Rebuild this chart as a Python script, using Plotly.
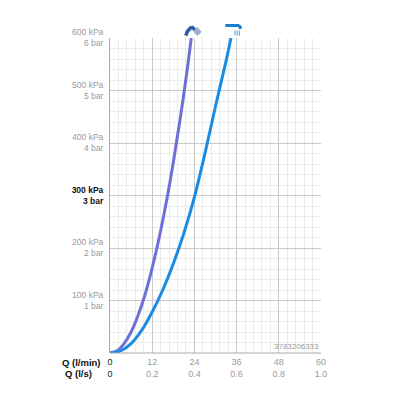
import plotly.graph_objects as go

# Flow curves (Q in l/min, p in kPa)
hand_q = [0, 2, 4, 6, 8, 10, 12, 14, 16, 18, 20, 22, 23.1]
hand_p = [0, 4, 18, 40, 72, 112, 162, 220, 287, 363, 448, 542, 600]
spout_q = [0, 3, 6, 9, 12, 15, 18, 21, 24, 27, 30, 33, 34.4]
spout_p = [0, 4, 18, 43, 78, 120, 170, 228, 297, 380, 470, 556, 600]

x_ticks = [0, 12, 24, 36, 48, 60]
x_ls = ["0", "0.2", "0.4", "0.6", "0.8", "1.0"]
y_ticks = [100, 200, 300, 400, 500, 600]
y_bar = ["1", "2", "3", "4", "5", "6"]
code = "3783206333"

GRAY = "#9a9a9a"
x_text = []
for v, s in zip(x_ticks, x_ls):
    c = "#222" if v == 0 else GRAY
    x_text.append(f"<span style='color:{c}'>{v}</span><br><span style='color:{c}'>{s}</span>")
y_text = []
for v, b in zip(y_ticks, y_bar):
    if v == 300:
        y_text.append(f"<span style='color:#111'><b>{v} kPa</b><br><b>{b} bar</b></span>")
    else:
        y_text.append(f"{v} kPa<br>{b} bar")

fig = go.Figure()
fig.add_trace(go.Scatter(x=hand_q, y=hand_p, mode="lines", line=dict(color="#6f6fd8", width=3, shape="spline")))
fig.add_trace(go.Scatter(x=spout_q, y=spout_p, mode="lines", line=dict(color="#1b8be2", width=3, shape="spline")))

# plot area in screenshot pixels (page has an 8px body margin)
L, R, T, B = 110, 321.5, 38, 353.5
OFF = 8


def px(x, y):
    return (x - L) / (R - L), (B - y) / (B - T)


def path(pts, close=False):
    s = ""
    for i, (x, y) in enumerate(pts):
        a, b = px(x, y)
        s += ("M" if i == 0 else "L") + f"{a:.4f},{b:.4f} "
    return s + ("Z" if close else "")


shapes = []
# hand shower icon: grid head + bent handle
shapes.append(dict(type="path", xref="paper", yref="paper",
                   path=path([(193.5, 31), (197.5, 27.5), (201.5, 32), (197.5, 35.5)], close=True),
                   fillcolor="#b7c6dc", line=dict(color="#8ea4c6", width=0.8)))
for t in [0.33, 0.66]:
    a = (193.5 + 4 * t, 31 - 3.5 * t)
    b = (197.5 + 4 * t, 35.5 - 3.5 * t)
    shapes.append(dict(type="path", xref="paper", yref="paper", path=path([a, b]), line=dict(color="#7f97bd", width=0.7)))
    a = (193.5 + 4 * t, 31 + 4.5 * t)
    b = (197.5 + 4 * t, 27.5 + 4.5 * t)
    shapes.append(dict(type="path", xref="paper", yref="paper", path=path([a, b]), line=dict(color="#7f97bd", width=0.7)))
shapes.append(dict(type="path", xref="paper", yref="paper",
                   path=path([(186, 35.5), (187.5, 31.5), (190.5, 28), (192.5, 27.5), (195, 29.5)]),
                   line=dict(color="#2d5fa8", width=3.5)))
# spout icon
shapes.append(dict(type="path", xref="paper", yref="paper",
                   path=path([(225.5, 25.5), (238.5, 25.5), (240.5, 26.8), (240.5, 29)]),
                   line=dict(color="#1b7fd0", width=3)))
for xx in [235.3, 237.5, 239.7]:
    shapes.append(dict(type="path", xref="paper", yref="paper", path=path([(xx, 30.5), (xx, 35.5)]),
                       line=dict(color="#5a9de0", width=1)))
shapes.append(dict(type="line", xref="paper", yref="paper", x0=0, x1=1, y0=0, y1=0,
                   line=dict(color="#aaaaaa", width=1)))

fig.update_layout(
    width=400, height=400,
    margin=dict(l=L - OFF, r=400 - R + OFF, t=T - OFF, b=400 - B + OFF, pad=0),
    paper_bgcolor="white", plot_bgcolor="white",
    showlegend=False,
    font=dict(family="Liberation Sans, Arial, sans-serif", size=8.5, color=GRAY),
    shapes=shapes,
    xaxis=dict(range=[0, 60], tickvals=x_ticks, ticktext=x_text, showgrid=True, gridcolor="#c9c9c9", gridwidth=1,
               minor=dict(dtick=2.4, showgrid=True, gridcolor="#ececec", gridwidth=1),
               zeroline=False, showline=False, ticks="", ticklabelstandoff=2, fixedrange=True,
               tickfont=dict(size=9)),
    yaxis=dict(range=[0, 600], tickvals=y_ticks, ticktext=y_text, showgrid=True, gridcolor="#c9c9c9", gridwidth=1,
               minor=dict(dtick=20, showgrid=True, gridcolor="#ececec", gridwidth=1),
               zeroline=False, showline=True, linecolor="#aaaaaa", linewidth=1, ticks="", ticklabelstandoff=4,
               fixedrange=True, tickfont=dict(size=8.5)),
    annotations=[
        dict(text="<b>Q (l/min)</b>", xref="paper", yref="paper", x=-0.033, y=-0.006, xanchor="right",
             yanchor="top", showarrow=False, font=dict(color="#111", size=9.5)),
        dict(text="<b>Q (l/s)</b>", xref="paper", yref="paper", x=-0.222, y=-0.040, xanchor="left",
             yanchor="top", showarrow=False, font=dict(color="#111", size=9.5)),
        dict(text=code, xref="paper", yref="paper", x=1.0, y=0.0, xanchor="right", yanchor="bottom",
             showarrow=False, font=dict(color=GRAY, size=8)),
    ],
)

fig.write_html("out.html")
